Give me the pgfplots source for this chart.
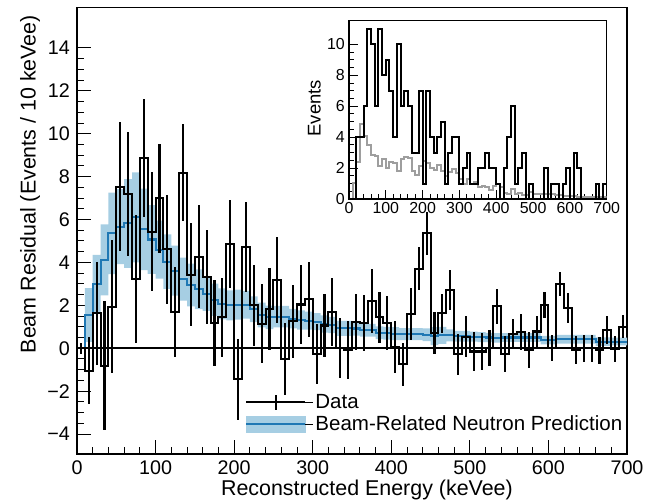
\documentclass[border=0pt]{standalone}
\usepackage{fontspec}
\setmainfont{Liberation Sans}
\usepackage{pgfplots}
\usepackage{pgfplotstable}
\pgfplotsset{compat=1.18}
\usepgfplotslibrary{fillbetween}
\definecolor{bandblue}{HTML}{A6CEE3}
\definecolor{lineblue}{HTML}{1F78B4}
\definecolor{ssgray}{RGB}{158,158,158}

% e = bin low edge (keVee); res/err = beam residual; pred/band = neutron prediction
% cnt = raw events, bkg = steady-state estimate (inset)
\pgfplotstableread{
e res err pred band cnt bkg
0 0.00 0.25 0.00 0.00 0 0.00
10 -1.04 1.55 1.55 1.25 0 1.04
20 1.63 2.40 3.00 1.35 4 2.37
30 -0.82 3.00 4.12 1.65 4 4.82
40 1.94 3.10 5.36 1.90 6 4.06
50 7.53 3.00 5.67 1.75 11 3.47
60 7.18 2.90 5.82 2.07 10 2.82
70 3.23 3.00 6.10 2.10 6 2.77
80 8.89 2.75 5.54 1.90 11 2.11
90 5.44 2.78 5.07 1.60 8 2.56
100 6.99 2.55 4.60 1.35 9 2.01
110 4.61 2.55 4.04 1.27 7 2.39
120 1.70 2.10 3.62 1.17 4 2.30
130 8.19 2.27 3.22 1.00 10 1.81
140 3.42 2.40 2.95 1.00 6 2.58
150 4.26 2.40 2.75 0.93 7 2.74
160 3.32 2.20 2.54 0.80 6 2.68
170 1.18 2.00 2.26 0.75 3 1.82
180 1.44 1.85 2.07 0.72 3 1.56
190 4.84 2.05 2.00 0.70 7 2.16
200 -1.45 1.90 2.03 0.70 1 2.45
210 4.70 2.10 2.03 0.65 7 2.30
220 2.00 1.90 1.82 0.60 4 2.00
230 1.14 1.85 1.55 0.58 3 1.86
240 1.82 1.90 1.44 0.55 4 2.18
250 3.20 2.00 1.47 0.50 5 1.80
260 -0.50 1.70 1.47 0.50 1 1.50
270 1.25 1.70 1.38 0.45 3 1.75
280 2.04 1.82 1.32 0.45 4 1.96
290 2.29 1.75 1.29 0.42 4 1.71
300 -0.27 1.40 1.24 0.40 1 1.27
310 1.06 1.45 1.13 0.40 2 0.94
320 1.69 1.60 1.08 0.38 3 1.31
330 0.00 1.40 0.93 0.35 1 1.00
340 -0.10 1.35 0.93 0.35 1 1.10
350 1.24 1.30 0.92 0.33 2 0.76
360 1.19 1.30 0.86 0.32 2 0.81
370 2.20 1.50 0.84 0.30 3 0.80
380 1.44 1.20 0.72 0.30 2 0.56
390 1.19 1.25 0.70 0.30 2 0.81
400 0.05 1.20 0.68 0.30 1 0.95
410 -0.75 1.00 0.66 0.28 0 0.75
420 1.60 1.20 0.66 0.28 2 0.40
430 3.70 1.00 0.66 0.28 4 0.30
440 5.36 1.00 0.63 0.30 6 0.64
450 0.70 0.97 0.56 0.42 1 0.30
460 1.63 0.90 0.60 0.40 2 0.37
470 2.72 0.93 0.60 0.28 3 0.28
480 -0.28 0.95 0.56 0.25 0 0.28
490 0.54 0.97 0.56 0.25 1 0.46
500 -0.15 0.93 0.54 0.23 0 0.30
510 -0.15 0.85 0.52 0.23 0 0.30
520 0.00 0.85 0.50 0.22 0 0.30
530 1.96 0.82 0.48 0.22 2 0.30
540 -0.28 0.85 0.50 0.20 0 0.31
550 0.65 0.70 0.50 0.20 1 0.35
560 0.75 0.83 0.50 0.20 1 0.25
570 -0.08 0.82 0.50 0.20 0 0.25
580 0.78 0.74 0.50 0.20 1 0.22
590 2.00 0.60 0.38 0.20 2 0.20
600 0.00 0.60 0.38 0.20 0 0.20
610 3.00 0.57 0.42 0.20 3 0.20
620 1.87 0.70 0.42 0.20 2 0.15
630 -0.08 0.66 0.42 0.20 0 0.15
640 0.00 0.64 0.42 0.20 0 0.15
650 0.00 0.62 0.42 0.20 0 0.15
660 -0.10 0.62 0.31 0.20 0 0.15
670 0.86 0.64 0.31 0.20 1 0.12
680 -0.03 0.60 0.31 0.18 0 0.10
690 1.01 0.52 0.31 0.18 1 0.10
700 1.01 0.52 0.31 0.18 1 0.10
}\bins

\begin{document}
\begin{tikzpicture}
\begin{axis}[
  at={(77bp,46bp)}, anchor=south west,
  scale only axis, width=550bp, height=446.7bp,
  xmin=0, xmax=700, ymin=-4.93, ymax=15.895,
  axis line style={line width=1.5bp},
  xtick={0,100,...,700}, minor x tick num=4,
  ytick={-4,-2,...,14}, yticklabels={−4,−2,0,2,4,6,8,10,12,14},
  minor y tick num=3,
  xtick pos=bottom, ytick pos=left, tick align=inside,
  major tick length=14bp, minor tick length=7bp,
  tick style={line width=1bp, black},
  /pgf/number format/assume math mode=true,
  ticklabel style={font=\fontsize{19.8}{22}\selectfont},
  xticklabel style={inner sep=0pt, yshift=-7bp},
  yticklabel style={inner sep=0pt, xshift=-7bp},
  xlabel={Reconstructed Energy (keVee)},
  ylabel={Beam Residual (Events / 10 keVee)},
  xlabel style={font=\fontsize{21.5}{24}\selectfont, inner sep=0pt,
    at={(axis description cs:0.7927,-0.0806)}, anchor=east},
  ylabel style={font=\fontsize{21.5}{24}\selectfont, inner sep=0pt,
    at={(axis description cs:-0.0855,0.983)}, anchor=east},
  legend style={draw=none, fill=none, inner sep=0pt,
    at={(axis description cs:0.3055,0.091)}, anchor=west,
    font=\fontsize{20.6}{23}\selectfont, row sep=2bp},
  legend cell align=left,
]
\addplot[name path=hi, draw=none, const plot, forget plot]
  table[x=e, y expr=\thisrow{pred}+\thisrow{band}] {\bins};
\addplot[name path=lo, draw=none, const plot, forget plot]
  table[x=e, y expr=\thisrow{pred}-\thisrow{band}] {\bins};
\addplot[fill=bandblue, draw=none, forget plot] fill between[of=hi and lo];
\addplot[const plot, lineblue, line width=2.1bp, forget plot] table[x=e, y=pred] {\bins};
\addplot[black, line width=1.5bp, forget plot] coordinates {(0,0) (700,0)};
\addplot[const plot, black, line width=2.1bp, forget plot] table[x=e, y=res] {\bins};
\addplot[draw=none, mark=none, forget plot, skip coords between index={70}{71},
  error bars/.cd, y dir=both, y explicit, error mark=none,
  error bar style={draw=black, line width=2.1bp}]
  table[x expr=\thisrow{e}+5, y=res, y error=err] {\bins};

\addlegendimage{legend image code/.code={
  \draw[black, line width=2bp] (0bp,0bp) -- (59bp,0bp);
  \draw[black, line width=2bp] (29.5bp,-7.5bp) -- (29.5bp,7.5bp);
  \path (59bp,0bp) -- (67bp,0bp);}}
\addlegendentry{Data}
\addlegendimage{legend image code/.code={
  \fill[bandblue] (0bp,-8bp) rectangle (59bp,8bp);
  \draw[lineblue, line width=2bp] (0bp,0bp) -- (59bp,0bp);
  \path (59bp,0bp) -- (67bp,0bp);}}
\addlegendentry{Beam-Related Neutron Prediction}
\end{axis}

\begin{axis}[
  at={(349bp,301bp)}, anchor=south west,
  scale only axis, width=257.7bp, height=178.6bp,
  xmin=0, xmax=700, ymin=0, ymax=11.55,
  axis background/.style={fill=white},
  axis line style={line width=1.3bp},
  xtick={0,100,...,700}, ytick={0,2,...,10},
  minor x tick num=4, minor y tick num=3,
  xtick pos=bottom, ytick pos=left, tick align=inside,
  major tick length=9bp, minor tick length=5bp,
  tick style={line width=0.9bp, black},
  /pgf/number format/assume math mode=true,
  ticklabel style={font=\fontsize{16}{18}\selectfont},
  xticklabel style={inner sep=0pt, yshift=-3bp},
  yticklabel style={inner sep=0pt, xshift=-4bp},
  ylabel={Events},
  ylabel style={font=\fontsize{18.5}{20}\selectfont, inner sep=0pt,
    at={(axis description cs:-0.134,0.508)}, anchor=center},
]
\addplot[const plot, ssgray, line width=2bp] table[x=e, y=bkg] {\bins};
\addplot[const plot, black, line width=2bp] table[x=e, y=cnt] {\bins};
\end{axis}
\pgfresetboundingbox
\path[use as bounding box] (0,0) rectangle (645bp,500bp);
\end{tikzpicture}
\end{document}
